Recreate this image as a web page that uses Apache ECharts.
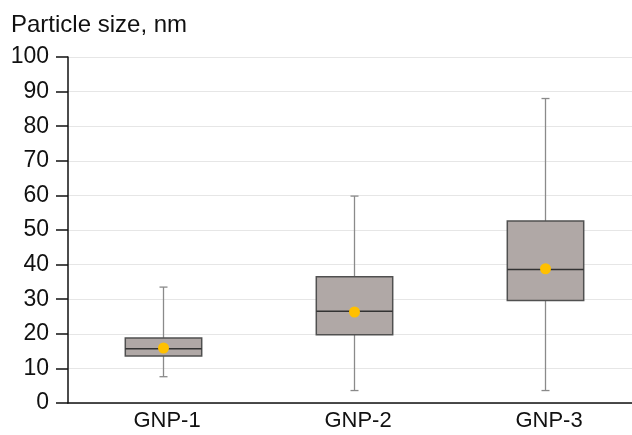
<!DOCTYPE html>
<html>
<head>
<meta charset="utf-8">
<script src="https://cdn.jsdelivr.net/npm/echarts@6/dist/echarts.min.js"></script>
<style>
  html, body { margin: 0; padding: 0; background: #fff; }
  #chart { width: 632px; height: 435px; }
</style>
</head>
<body>
<div id="chart"></div>
<script>
// box plot data
var categories = ['GNP-1', 'GNP-2', 'GNP-3'];
var whiskerLow = [7.6, 3.6, 3.6];
var q1 = [13.6, 19.7, 29.6];
var median = [15.7, 26.5, 38.6];
var q3 = [18.8, 36.5, 52.6];
var whiskerHigh = [33.5, 59.8, 88];
var means = [15.9, 26.3, 38.8];
var yTicks = [0, 100, 10]; // min, max, step

var chart = echarts.init(document.getElementById('chart'));

var boxData = categories.map(function (c, i) {
  return [i, whiskerLow[i], q1[i], median[i], q3[i], whiskerHigh[i]];
});

function renderBox(params, api) {
  var i = api.value(0);
  var pLow = api.coord([i, api.value(1)]);
  var pQ1 = api.coord([i, api.value(2)]);
  var pMed = api.coord([i, api.value(3)]);
  var pQ3 = api.coord([i, api.value(4)]);
  var pHigh = api.coord([i, api.value(5)]);
  var bw = api.size([1, 0])[0] * 0.4;
  var cap = 8;
  var x = pMed[0];
  var wStyle = { stroke: '#8a8a8a', lineWidth: 1.3 };
  return {
    type: 'group',
    children: [
      { type: 'line', shape: { x1: x, y1: pHigh[1], x2: x, y2: pQ3[1] }, style: wStyle },
      { type: 'line', shape: { x1: x, y1: pQ1[1], x2: x, y2: pLow[1] }, style: wStyle },
      { type: 'line', shape: { x1: x - cap / 2, y1: pHigh[1], x2: x + cap / 2, y2: pHigh[1] }, style: wStyle },
      { type: 'line', shape: { x1: x - cap / 2, y1: pLow[1], x2: x + cap / 2, y2: pLow[1] }, style: wStyle },
      {
        type: 'rect',
        shape: { x: x - bw / 2, y: pQ3[1], width: bw, height: pQ1[1] - pQ3[1] },
        style: { fill: '#b0a8a6', stroke: '#505050', lineWidth: 1.5 }
      },
      { type: 'line', shape: { x1: x - bw / 2, y1: pMed[1], x2: x + bw / 2, y2: pMed[1] }, style: { stroke: '#333', lineWidth: 1.5 } }
    ]
  };
}

chart.setOption({
  animation: false,
  title: {
    text: 'Particle size, nm',
    left: 6,
    top: 8,
    textStyle: { fontFamily: 'Liberation Sans', fontSize: 24, fontWeight: 'normal', color: '#111' }
  },
  grid: { left: 68, width: 573, top: 57, bottom: 32, outerBoundsMode: 'none', containLabel: false },
  xAxis: {
    type: 'category',
    data: categories,
    axisLine: { lineStyle: { color: '#111', width: 1.5 } },
    axisTick: { show: false },
    axisLabel: { fontFamily: 'Liberation Sans', fontSize: 22, color: '#111', margin: 7, padding: [0, 0, 0, 7] }
  },
  yAxis: {
    type: 'value',
    min: yTicks[0],
    max: yTicks[1],
    interval: yTicks[2],
    axisLine: { show: true, lineStyle: { color: '#111', width: 1.5 } },
    axisTick: { show: true, length: 12, lineStyle: { color: '#111', width: 1.5 } },
    axisLabel: { fontFamily: 'Liberation Sans', fontSize: 23, color: '#111', margin: 19 },
    splitLine: { lineStyle: { color: '#e6e6e6', width: 1.2 } }
  },
  series: [
    {
      type: 'custom',
      renderItem: renderBox,
      data: boxData,
      encode: { x: 0, y: [1, 2, 3, 4, 5] }
    },
    {
      type: 'scatter',
      data: means.map(function (m, i) { return [i, m]; }),
      symbolSize: 11,
      itemStyle: { color: '#ffc000', opacity: 1 },
      z: 5
    }
  ]
});
</script>
</body>
</html>
